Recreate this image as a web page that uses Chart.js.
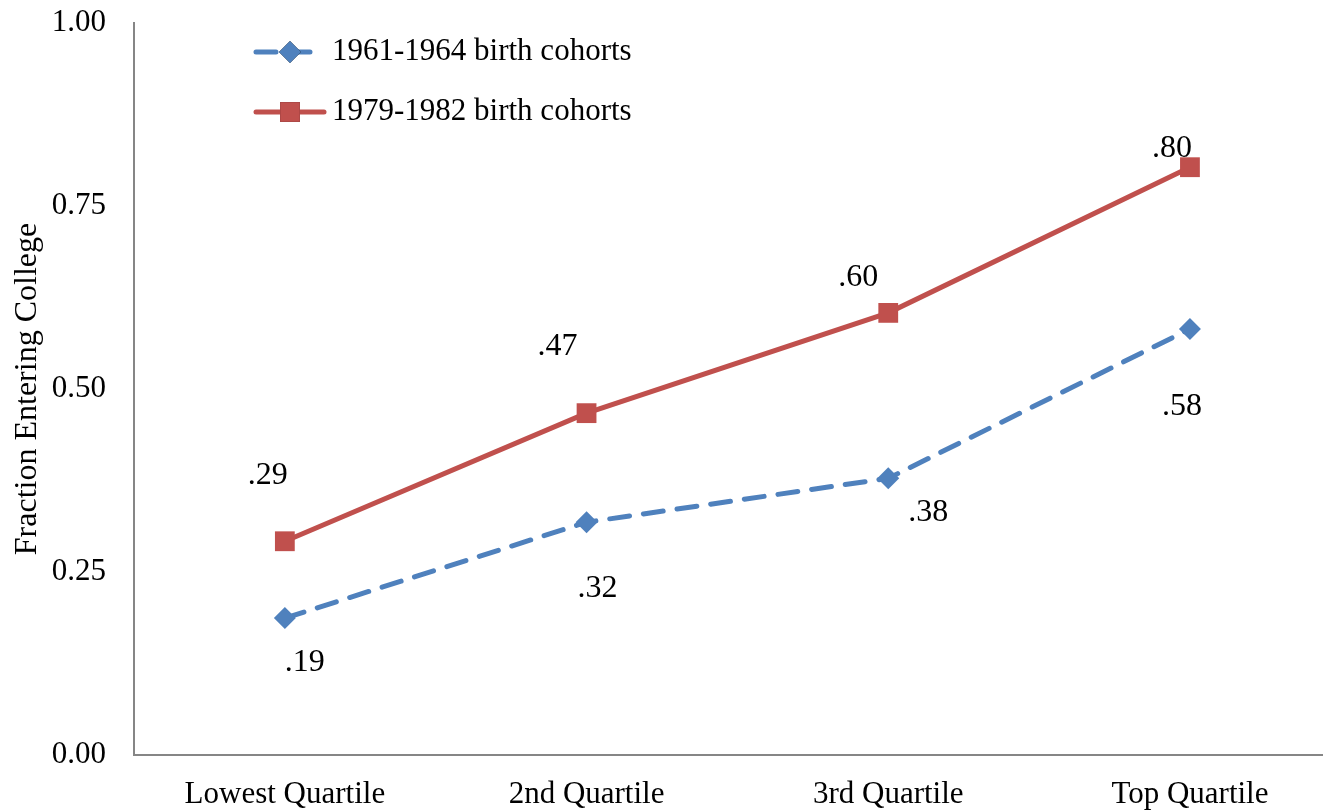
<!DOCTYPE html>
<html>
<head>
<meta charset="utf-8">
<script src="https://cdn.jsdelivr.net/npm/chart.js@4.4.0/dist/chart.umd.min.js"></script>
<style>
    html, body { margin: 0; padding: 0; background: #fff; overflow: hidden; }
    #wrap { width: 1323px; height: 812px; position: relative; }
    canvas { display: block; }
</style>
</head>
<body>
<div id="wrap"><canvas id="collegeChart"></canvas></div>
<script>
// Data
const quartiles = ['Lowest Quartile', '2nd Quartile', '3rd Quartile', 'Top Quartile'];
const cohort1961 = [0.187, 0.318, 0.378, 0.582];
const cohort1979 = [0.292, 0.467, 0.604, 0.803];
const yTicks = [0, 0.25, 0.5, 0.75, 1];

const FONT = '"Liberation Serif", "Times New Roman", serif';
const BLUE = '#4F81BD';
const RED = '#C0504D';

// label nudges (px) as placed by hand in the original
const labelOffsets = {
    0: [[20, 44], [11, 66], [40, 34], [-8, 78]],
    1: [[-17, -66], [-29, -67], [-30, -35], [-18, -19]]
};

function toPoints(values) {
    return values.map((v, i) => ({ x: i, y: v }));
}

const pointLabels = {
    id: 'pointLabels',
    afterDatasetsDraw(chart) {
        const ctx = chart.ctx;
        ctx.save();
        ctx.font = '32px ' + FONT;
        ctx.fillStyle = '#000';
        ctx.textAlign = 'center';
        ctx.textBaseline = 'middle';
        chart.data.datasets.forEach((ds, di) => {
            chart.getDatasetMeta(di).data.forEach((pt, i) => {
                const off = labelOffsets[di][i];
                const txt = ds.data[i].y.toFixed(2).replace(/^0/, '');
                ctx.fillText(txt, pt.x + off[0], pt.y + off[1]);
            });
        });
        ctx.restore();
    }
};

// legend drawn by hand so it shows line + marker like the original
const lineLegend = {
    id: 'lineLegend',
    afterDraw(chart) {
        const ctx = chart.ctx;
        const rows = [52, 112];
        ctx.save();
        chart.data.datasets.forEach((ds, di) => {
            const y = rows[di];
            ctx.strokeStyle = ds.borderColor;
            ctx.lineWidth = 5;
            ctx.lineCap = 'round';
            ctx.setLineDash(ds.borderDash || []);
            ctx.beginPath();
            ctx.moveTo(256, y);
            ctx.lineTo(di === 0 ? 316 : 324, y);
            ctx.stroke();
            ctx.setLineDash([]);
            Chart.helpers.drawPoint(ctx, {
                pointStyle: ds.pointStyle,
                radius: ds.pointRadius,
                borderWidth: 0
            }, 290, y);
            ctx.fillStyle = ds.borderColor;
            ctx.fill();
            ctx.fillStyle = '#000';
            ctx.font = '31px ' + FONT;
            ctx.textAlign = 'left';
            ctx.textBaseline = 'middle';
            ctx.fillText(ds.label, 332, y);
        });
        ctx.restore();
    }
};

new Chart(document.getElementById('collegeChart'), {
    type: 'line',
    data: {
        datasets: [{
            label: '1961-1964 birth cohorts',
            data: toPoints(cohort1961),
            borderColor: BLUE,
            backgroundColor: BLUE,
            borderWidth: 5,
            borderDash: [20, 14],
            borderCapStyle: 'round',
            pointStyle: 'rectRot',
            pointRadius: 11,
            pointBorderWidth: 0,
            tension: 0
        }, {
            label: '1979-1982 birth cohorts',
            data: toPoints(cohort1979),
            borderColor: RED,
            backgroundColor: RED,
            borderWidth: 5,
            borderCapStyle: 'round',
            pointStyle: 'rect',
            pointRadius: 14,
            pointBorderWidth: 0,
            tension: 0
        }]
    },
    options: {
        responsive: true,
        maintainAspectRatio: false,
        animation: false,
        layout: {
            autoPadding: false,
            padding: { top: 23, right: 0, bottom: 0, left: 0 }
        },
        plugins: {
            legend: { display: false },
            tooltip: { enabled: false }
        },
        scales: {
            x: {
                type: 'linear',
                min: -0.5,
                max: 3.441,
                grid: { display: false, drawTicks: false },
                border: { display: true, color: '#868686', width: 2 },
                afterBuildTicks: axis => {
                    axis.ticks = quartiles.map((q, i) => ({ value: i }));
                },
                afterFit: scale => {
                    scale.height = 57;
                    scale.paddingLeft = 0;
                    scale.paddingRight = 0;
                },
                ticks: {
                    padding: 21,
                    color: '#000',
                    font: { family: FONT, size: 31 },
                    maxRotation: 0,
                    autoSkip: false,
                    callback: v => quartiles[v]
                }
            },
            y: {
                min: 0,
                max: 1,
                grid: { display: false, drawTicks: false },
                border: { display: true, color: '#868686', width: 2 },
                afterBuildTicks: axis => {
                    axis.ticks = yTicks.map(v => ({ value: v }));
                },
                afterFit: scale => {
                    scale.width = 134;
                    scale.paddingTop = 0;
                    scale.paddingBottom = 0;
                },
                ticks: {
                    padding: 28,
                    color: '#000',
                    font: { family: FONT, size: 31 },
                    callback: v => v.toFixed(2)
                },
                title: {
                    display: true,
                    text: 'Fraction Entering College',
                    color: '#000',
                    font: { family: FONT, size: 32 },
                    padding: { top: 8, bottom: 0 }
                }
            }
        }
    },
    plugins: [pointLabels, lineLegend]
});
</script>
</body>
</html>
